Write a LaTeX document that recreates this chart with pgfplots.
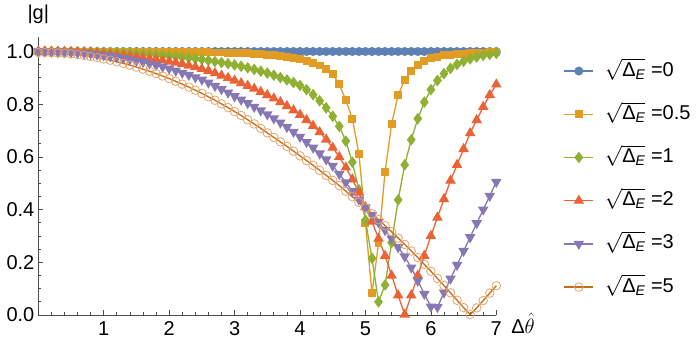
\documentclass[border=0pt]{standalone}
\usepackage{amsmath}
\usepackage{fontspec}
\setmainfont{Liberation Sans}
\usepackage{pgfplots}
\usepackage{pgfplotstable}
\pgfplotsset{compat=1.18}

\definecolor{mblue}{rgb}{0.368417,0.506779,0.709798}
\definecolor{morange}{rgb}{0.880722,0.611041,0.142051}
\definecolor{mgreen}{rgb}{0.560181,0.691569,0.194885}
\definecolor{mred}{rgb}{0.922526,0.385626,0.209179}
\definecolor{mpurple}{rgb}{0.528488,0.470624,0.701351}
\definecolor{mbrown}{rgb}{0.772079,0.431554,0.102387}
\definecolor{mbrownmark}{HTML}{E6A36A}

% x, then |g| for sqrt(Delta_E) = 0, 0.5, 1, 2, 3, 5
\pgfplotstableread{
x   b o     g     r     p     n
0.0 1 1.000 1.000 1.000 1.000 0.996
0.1 1 1.000 1.000 1.000 1.000 0.996
0.2 1 1.000 1.000 1.000 0.999 0.995
0.3 1 1.000 1.000 0.999 0.999 0.994
0.4 1 1.000 0.999 0.999 0.998 0.993
0.5 1 1.000 0.999 0.998 0.997 0.991
0.6 1 1.000 0.999 0.997 0.995 0.988
0.7 1 1.000 0.998 0.996 0.993 0.985
0.8 1 1.000 0.998 0.995 0.991 0.981
0.9 1 1.000 0.997 0.993 0.988 0.977
1.0 1 1.000 0.997 0.991 0.985 0.972
1.1 1 1.000 0.996 0.989 0.982 0.967
1.2 1 0.999 0.995 0.987 0.978 0.961
1.3 1 0.999 0.994 0.985 0.974 0.955
1.4 1 0.999 0.993 0.982 0.970 0.948
1.5 1 0.999 0.992 0.979 0.965 0.941
1.6 1 0.999 0.990 0.976 0.960 0.933
1.7 1 0.999 0.989 0.973 0.954 0.925
1.8 1 0.999 0.987 0.970 0.948 0.916
1.9 1 0.999 0.985 0.966 0.942 0.907
2.0 1 0.998 0.983 0.962 0.935 0.897
2.1 1 0.998 0.981 0.958 0.927 0.887
2.2 1 0.998 0.978 0.953 0.919 0.876
2.3 1 0.998 0.976 0.947 0.911 0.865
2.4 1 0.997 0.973 0.941 0.902 0.853
2.5 1 0.997 0.970 0.934 0.893 0.841
2.6 1 0.997 0.966 0.927 0.882 0.828
2.7 1 0.996 0.962 0.918 0.869 0.815
2.8 1 0.996 0.958 0.909 0.857 0.801
2.9 1 0.995 0.954 0.900 0.844 0.787
3.0 1 0.995 0.949 0.890 0.830 0.772
3.1 1 0.994 0.944 0.880 0.817 0.757
3.2 1 0.993 0.938 0.870 0.804 0.741
3.3 1 0.992 0.932 0.859 0.790 0.725
3.4 1 0.990 0.925 0.847 0.776 0.708
3.5 1 0.988 0.918 0.835 0.761 0.691
3.6 1 0.986 0.910 0.822 0.746 0.674
3.7 1 0.983 0.901 0.808 0.730 0.657
3.8 1 0.980 0.892 0.793 0.713 0.640
3.9 1 0.976 0.882 0.777 0.695 0.622
4.0 1 0.971 0.871 0.760 0.676 0.604
4.1 1 0.965 0.855 0.740 0.656 0.586
4.2 1 0.957 0.836 0.718 0.635 0.568
4.3 1 0.947 0.813 0.694 0.613 0.549
4.4 1 0.933 0.786 0.666 0.590 0.530
4.5 1 0.914 0.754 0.635 0.566 0.511
4.6 1 0.875 0.716 0.600 0.535 0.491
4.7 1 0.815 0.660 0.560 0.503 0.470
4.8 1 0.745 0.580 0.515 0.470 0.449
4.9 1 0.612 0.475 0.465 0.438 0.428
5.0 1 0.350 0.360 0.410 0.408 0.406
5.1 1 0.082 0.215 0.355 0.380 0.384
5.2 1 0.272 0.050 0.290 0.352 0.362
5.3 1 0.544 0.114 0.225 0.322 0.339
5.4 1 0.725 0.275 0.150 0.290 0.316
5.5 1 0.835 0.437 0.075 0.257 0.292
5.6 1 0.892 0.570 0.002 0.222 0.268
5.7 1 0.926 0.665 0.075 0.180 0.243
5.8 1 0.950 0.745 0.150 0.130 0.218
5.9 1 0.964 0.808 0.225 0.080 0.192
6.0 1 0.974 0.855 0.300 0.032 0.166
6.1 1 0.980 0.890 0.370 0.030 0.139
6.2 1 0.985 0.916 0.440 0.085 0.112
6.3 1 0.988 0.936 0.510 0.138 0.084
6.4 1 0.990 0.951 0.570 0.190 0.056
6.5 1 0.992 0.963 0.630 0.243 0.028
6.6 1 0.994 0.972 0.690 0.295 0.002
6.7 1 0.995 0.979 0.740 0.348 0.027
6.8 1 0.996 0.985 0.790 0.400 0.055
6.9 1 0.997 0.989 0.835 0.452 0.083
7.0 1 0.997 0.993 0.875 0.505 0.111
}\gdata

\begin{document}
\begin{tikzpicture}
\path[use as bounding box] (-38.3pt,-35pt) rectangle (661.7pt,315pt);
\begin{axis}[
  scale only axis,
  width=458pt, height=278pt,
  xmin=0, xmax=7, ymin=0, ymax=1.055,
  axis lines=left,
  axis line style={-, black!70, line width=0.7pt},
  tick style={black!70, line width=0.7pt},
  tick align=inside,
  major tick length=5pt, minor tick length=3pt,
  xtick={0,1,...,7}, xticklabels={,1,2,3,4,5,6,7},
  minor x tick num=4,
  ytick={0,0.2,...,1.0}, minor y tick num=3,
  yticklabel style={/pgf/number format/fixed, /pgf/number format/fixed zerofill, /pgf/number format/precision=1},
  /pgf/number format/assume math mode=true,
  xticklabel style={yshift=-3pt},
  ticklabel style={font=\fontsize{20}{24}\selectfont},
  ylabel={|g|},
  every axis y label/.style={at={(rel axis cs:0,1)}, anchor=south, yshift=9pt, font=\fontsize{20}{24}\selectfont},
  xlabel={Δ$\hat{\theta}$},
  every axis x label/.style={at={(rel axis cs:1,0)}, anchor=base west, xshift=11pt, yshift=-18pt, font=\fontsize{20}{24}\selectfont},
  clip=false,
  line width=1.3pt,
  legend image code/.code={\draw[mark repeat=2,mark phase=2] plot coordinates {(0pt,0pt) (14.5pt,0pt) (29pt,0pt)};},
  legend style={draw=none, fill=none, at={(rel axis cs:1.1457,0.489)}, anchor=west,
    font=\fontsize{20}{24}\selectfont, inner sep=0pt, row sep=23.2pt, column sep=11pt,
    nodes={inner sep=0pt, text height=15pt, text depth=5pt}},
  legend cell align=left,
]
\addplot[mblue, mark=*, mark size=3.8pt] table[x=x, y=b] {\gdata};
\addplot[morange, mark=square*, mark size=3.3pt] table[x=x, y=o] {\gdata};
\addplot[mgreen, mark=diamond*, mark size=4.8pt] table[x=x, y=g] {\gdata};
\addplot[mred, mark=triangle*, mark size=4.8pt] table[x=x, y=r] {\gdata};
\addplot[mpurple, mark=triangle*, mark size=4.8pt, mark options={rotate=180}] table[x=x, y=p] {\gdata};
\addplot[mbrown, mark=o, mark size=4.3pt, mark options={draw=mbrownmark, line width=0.8pt}] table[x=x, y=n] {\gdata};
\legend{$\sqrt{\text{Δ}_{\text{\itshape E}}}$ =0,
        $\sqrt{\text{Δ}_{\text{\itshape E}}}$ =0.5,
        $\sqrt{\text{Δ}_{\text{\itshape E}}}$ =1,
        $\sqrt{\text{Δ}_{\text{\itshape E}}}$ =2,
        $\sqrt{\text{Δ}_{\text{\itshape E}}}$ =3,
        $\sqrt{\text{Δ}_{\text{\itshape E}}}$ =5}
\end{axis}
\end{tikzpicture}
\end{document}
